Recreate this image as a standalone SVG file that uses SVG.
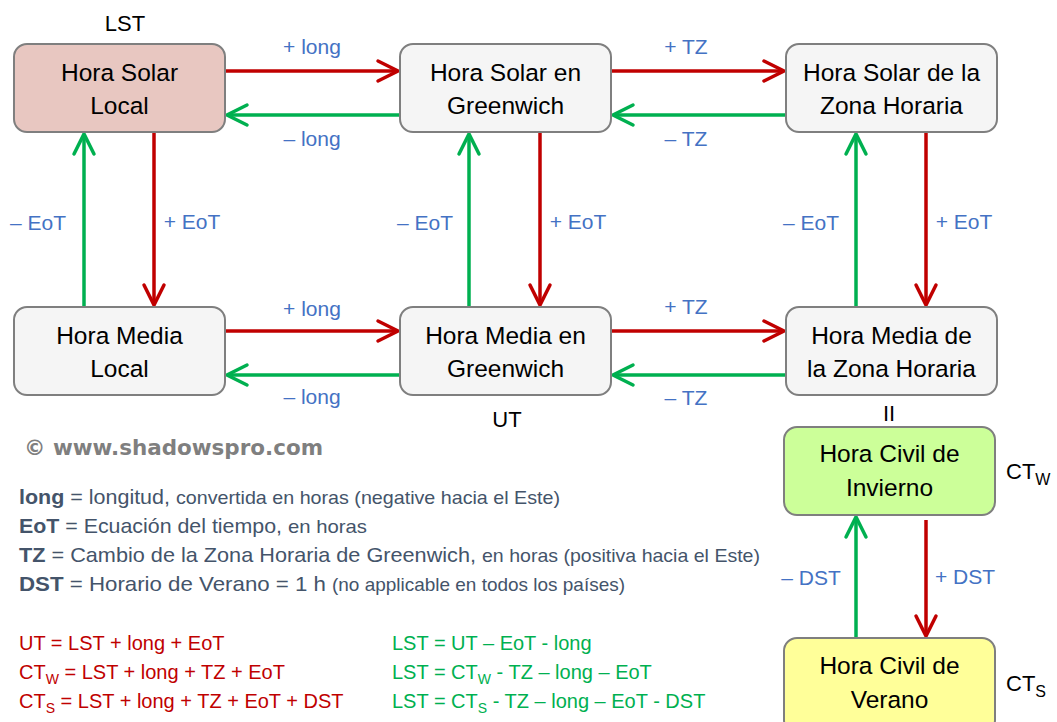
<svg xmlns="http://www.w3.org/2000/svg" width="1057" height="722" viewBox="0 0 1057 722">
<style>
.box{stroke:#7f7f7f;stroke-width:2}
.gray{fill:#f5f5f5}
.bt{font-family:"Liberation Sans",Arial,sans-serif;font-size:24.5px;fill:#000;text-anchor:middle}
.lbl{font-family:"Liberation Sans",Arial,sans-serif;font-size:21px;fill:#4472c4;text-anchor:middle}
.blk{font-family:"Liberation Sans",Arial,sans-serif;font-size:22px;fill:#000}
.red{stroke:#c00000;stroke-width:3.5;fill:none}
.grn{stroke:#00b050;stroke-width:3.5;fill:none}
.leg{font-family:"Liberation Sans",Arial,sans-serif;fill:#44546a}
.big{font-size:21px}
.sm{font-size:19px}
.fr{font-family:"Liberation Sans",Arial,sans-serif;font-size:20px;fill:#c00000}
.fg{font-family:"Liberation Sans",Arial,sans-serif;font-size:20px;fill:#00b050}
</style>
<defs>
<marker id="mr" markerUnits="userSpaceOnUse" markerWidth="30" markerHeight="30" viewBox="-25 -15 30 30" refX="0" refY="0" orient="auto">
<path d="M-20,-10 L0,0 L-20,10" fill="none" stroke="#c00000" stroke-width="3.5" stroke-linecap="round"/>
</marker>
<marker id="mg" markerUnits="userSpaceOnUse" markerWidth="30" markerHeight="30" viewBox="-25 -15 30 30" refX="0" refY="0" orient="auto">
<path d="M-20,-10 L0,0 L-20,10" fill="none" stroke="#00b050" stroke-width="3.5" stroke-linecap="round"/>
</marker>
</defs>
<rect width="1057" height="722" fill="#fff"/>

<g id="connectors">
<path class="red" d="M225,71 H398" marker-end="url(#mr)"/>
<path class="red" d="M611,71 H784" marker-end="url(#mr)"/>
<path class="grn" d="M400,115 H227" marker-end="url(#mg)"/>
<path class="grn" d="M786,115 H613" marker-end="url(#mg)"/>
<path class="red" d="M225,331 H398" marker-end="url(#mr)"/>
<path class="red" d="M611,331 H784" marker-end="url(#mr)"/>
<path class="grn" d="M400,375 H227" marker-end="url(#mg)"/>
<path class="grn" d="M786,375 H613" marker-end="url(#mg)"/>
<path class="grn" d="M84,307 V134" marker-end="url(#mg)"/>
<path class="red" d="M154,132 V305" marker-end="url(#mr)"/>
<path class="grn" d="M469,307 V134" marker-end="url(#mg)"/>
<path class="red" d="M540,132 V305" marker-end="url(#mr)"/>
<path class="grn" d="M856,307 V134" marker-end="url(#mg)"/>
<path class="red" d="M926,132 V305" marker-end="url(#mr)"/>
<path class="grn" d="M856,638 V517" marker-end="url(#mg)"/>
<path class="red" d="M926,520 V636" marker-end="url(#mr)"/>
<text class="lbl" x="312" y="54">+ long</text>
<text class="lbl" x="312" y="146">– long</text>
<text class="lbl" x="686" y="54">+ TZ</text>
<text class="lbl" x="686" y="146">– TZ</text>
<text class="lbl" x="312" y="316">+ long</text>
<text class="lbl" x="312" y="404">– long</text>
<text class="lbl" x="686" y="314">+ TZ</text>
<text class="lbl" x="686" y="405">– TZ</text>
<text class="lbl" x="38" y="230">– EoT</text>
<text class="lbl" x="192" y="229">+ EoT</text>
<text class="lbl" x="425" y="230">– EoT</text>
<text class="lbl" x="578" y="229">+ EoT</text>
<text class="lbl" x="811" y="230">– EoT</text>
<text class="lbl" x="964" y="229">+ EoT</text>
<text class="lbl" x="811" y="585">– DST</text>
<text class="lbl" x="965" y="584">+ DST</text>
</g>

<g id="lst">
<rect class="box" x="14" y="44" width="211" height="88" rx="13" fill="#e8c7c1"/>
<text class="bt" x="119.5" y="81">Hora Solar</text>
<text class="bt" x="119.5" y="114">Local</text>
</g>
<g id="solar-greenwich">
<rect class="box gray" x="400" y="44" width="211" height="88" rx="13"/>
<text class="bt" x="505.5" y="81">Hora Solar en</text>
<text class="bt" x="505.5" y="114">Greenwich</text>
</g>
<g id="solar-zona">
<rect class="box gray" x="786" y="44" width="211" height="88" rx="13"/>
<text class="bt" x="891.5" y="81">Hora Solar de la</text>
<text class="bt" x="891.5" y="114">Zona Horaria</text>
</g>
<g id="media-local">
<rect class="box gray" x="14" y="307" width="211" height="88" rx="13"/>
<text class="bt" x="119.5" y="344">Hora Media</text>
<text class="bt" x="119.5" y="377">Local</text>
</g>
<g id="media-greenwich">
<rect class="box gray" x="400" y="307" width="211" height="88" rx="13"/>
<text class="bt" x="505.5" y="344">Hora Media en</text>
<text class="bt" x="505.5" y="377">Greenwich</text>
</g>
<g id="media-zona">
<rect class="box gray" x="786" y="307" width="211" height="88" rx="13"/>
<text class="bt" x="891.5" y="344">Hora Media de</text>
<text class="bt" x="891.5" y="377">la Zona Horaria</text>
</g>
<g id="civil-invierno">
<rect class="box" x="784" y="427" width="211" height="88" rx="13" fill="#ccff99"/>
<text class="bt" x="889.5" y="462">Hora Civil de</text>
<text class="bt" x="889.5" y="496">Invierno</text>
</g>
<g id="civil-verano">
<rect class="box" x="784" y="638" width="211" height="95" rx="13" fill="#ffff99"/>
<text class="bt" x="889.5" y="674">Hora Civil de</text>
<text class="bt" x="889.5" y="708">Verano</text>
</g>

<g id="labels">
<text class="blk" x="125" y="31" text-anchor="middle">LST</text>
<text class="blk" x="507" y="427" text-anchor="middle">UT</text>
<text class="blk" x="889" y="421" text-anchor="middle">II</text>
<text class="blk" x="1006" y="479" font-size="23">CT<tspan font-size="16" dy="6">W</tspan></text>
<text class="blk" x="1006" y="691" font-size="23">CT<tspan font-size="16" dy="6">S</tspan></text>
<text x="24" y="455" font-family="'DejaVu Sans',Verdana,sans-serif" font-weight="bold" font-size="21" fill="#7f7f7f" textLength="299" lengthAdjust="spacingAndGlyphs">© www.shadowspro.com</text>
</g>

<g id="legend">
<text class="leg big" x="19" y="504" textLength="151" lengthAdjust="spacingAndGlyphs"><tspan font-weight="bold">long</tspan> = longitud,</text>
<text class="leg sm" x="176" y="504" textLength="384" lengthAdjust="spacingAndGlyphs">convertida en horas (negative hacia el Este)</text>
<text class="leg big" x="19" y="533" textLength="263" lengthAdjust="spacingAndGlyphs"><tspan font-weight="bold">EoT</tspan> = Ecuación del tiempo,</text>
<text class="leg sm" x="288" y="533" textLength="79" lengthAdjust="spacingAndGlyphs">en horas</text>
<text class="leg big" x="19" y="562" textLength="457" lengthAdjust="spacingAndGlyphs"><tspan font-weight="bold">TZ</tspan> = Cambio de la Zona Horaria de Greenwich,</text>
<text class="leg sm" x="482" y="562" textLength="278" lengthAdjust="spacingAndGlyphs">en horas (positiva hacia el Este)</text>
<text class="leg big" x="19" y="591" textLength="307" lengthAdjust="spacingAndGlyphs"><tspan font-weight="bold">DST</tspan> = Horario de Verano = 1 h</text>
<text class="leg sm" x="332" y="591" textLength="293" lengthAdjust="spacingAndGlyphs">(no applicable en todos los países)</text>
</g>

<g id="formulas">
<text class="fr" x="19" y="650">UT = LST + long + EoT</text>
<text class="fr" x="19" y="679">CT<tspan font-size="14" dy="5">W</tspan><tspan dy="-5"> = LST + long + TZ + EoT</tspan></text>
<text class="fr" x="19" y="708">CT<tspan font-size="14" dy="5">S</tspan><tspan dy="-5"> = LST + long + TZ + EoT + DST</tspan></text>
<text class="fg" x="392" y="650">LST = UT – EoT - long</text>
<text class="fg" x="392" y="679">LST = CT<tspan font-size="14" dy="5">W</tspan><tspan dy="-5"> - TZ – long – EoT</tspan></text>
<text class="fg" x="392" y="708">LST = CT<tspan font-size="14" dy="5">S</tspan><tspan dy="-5"> - TZ – long – EoT - DST</tspan></text>
</g>
</svg>
